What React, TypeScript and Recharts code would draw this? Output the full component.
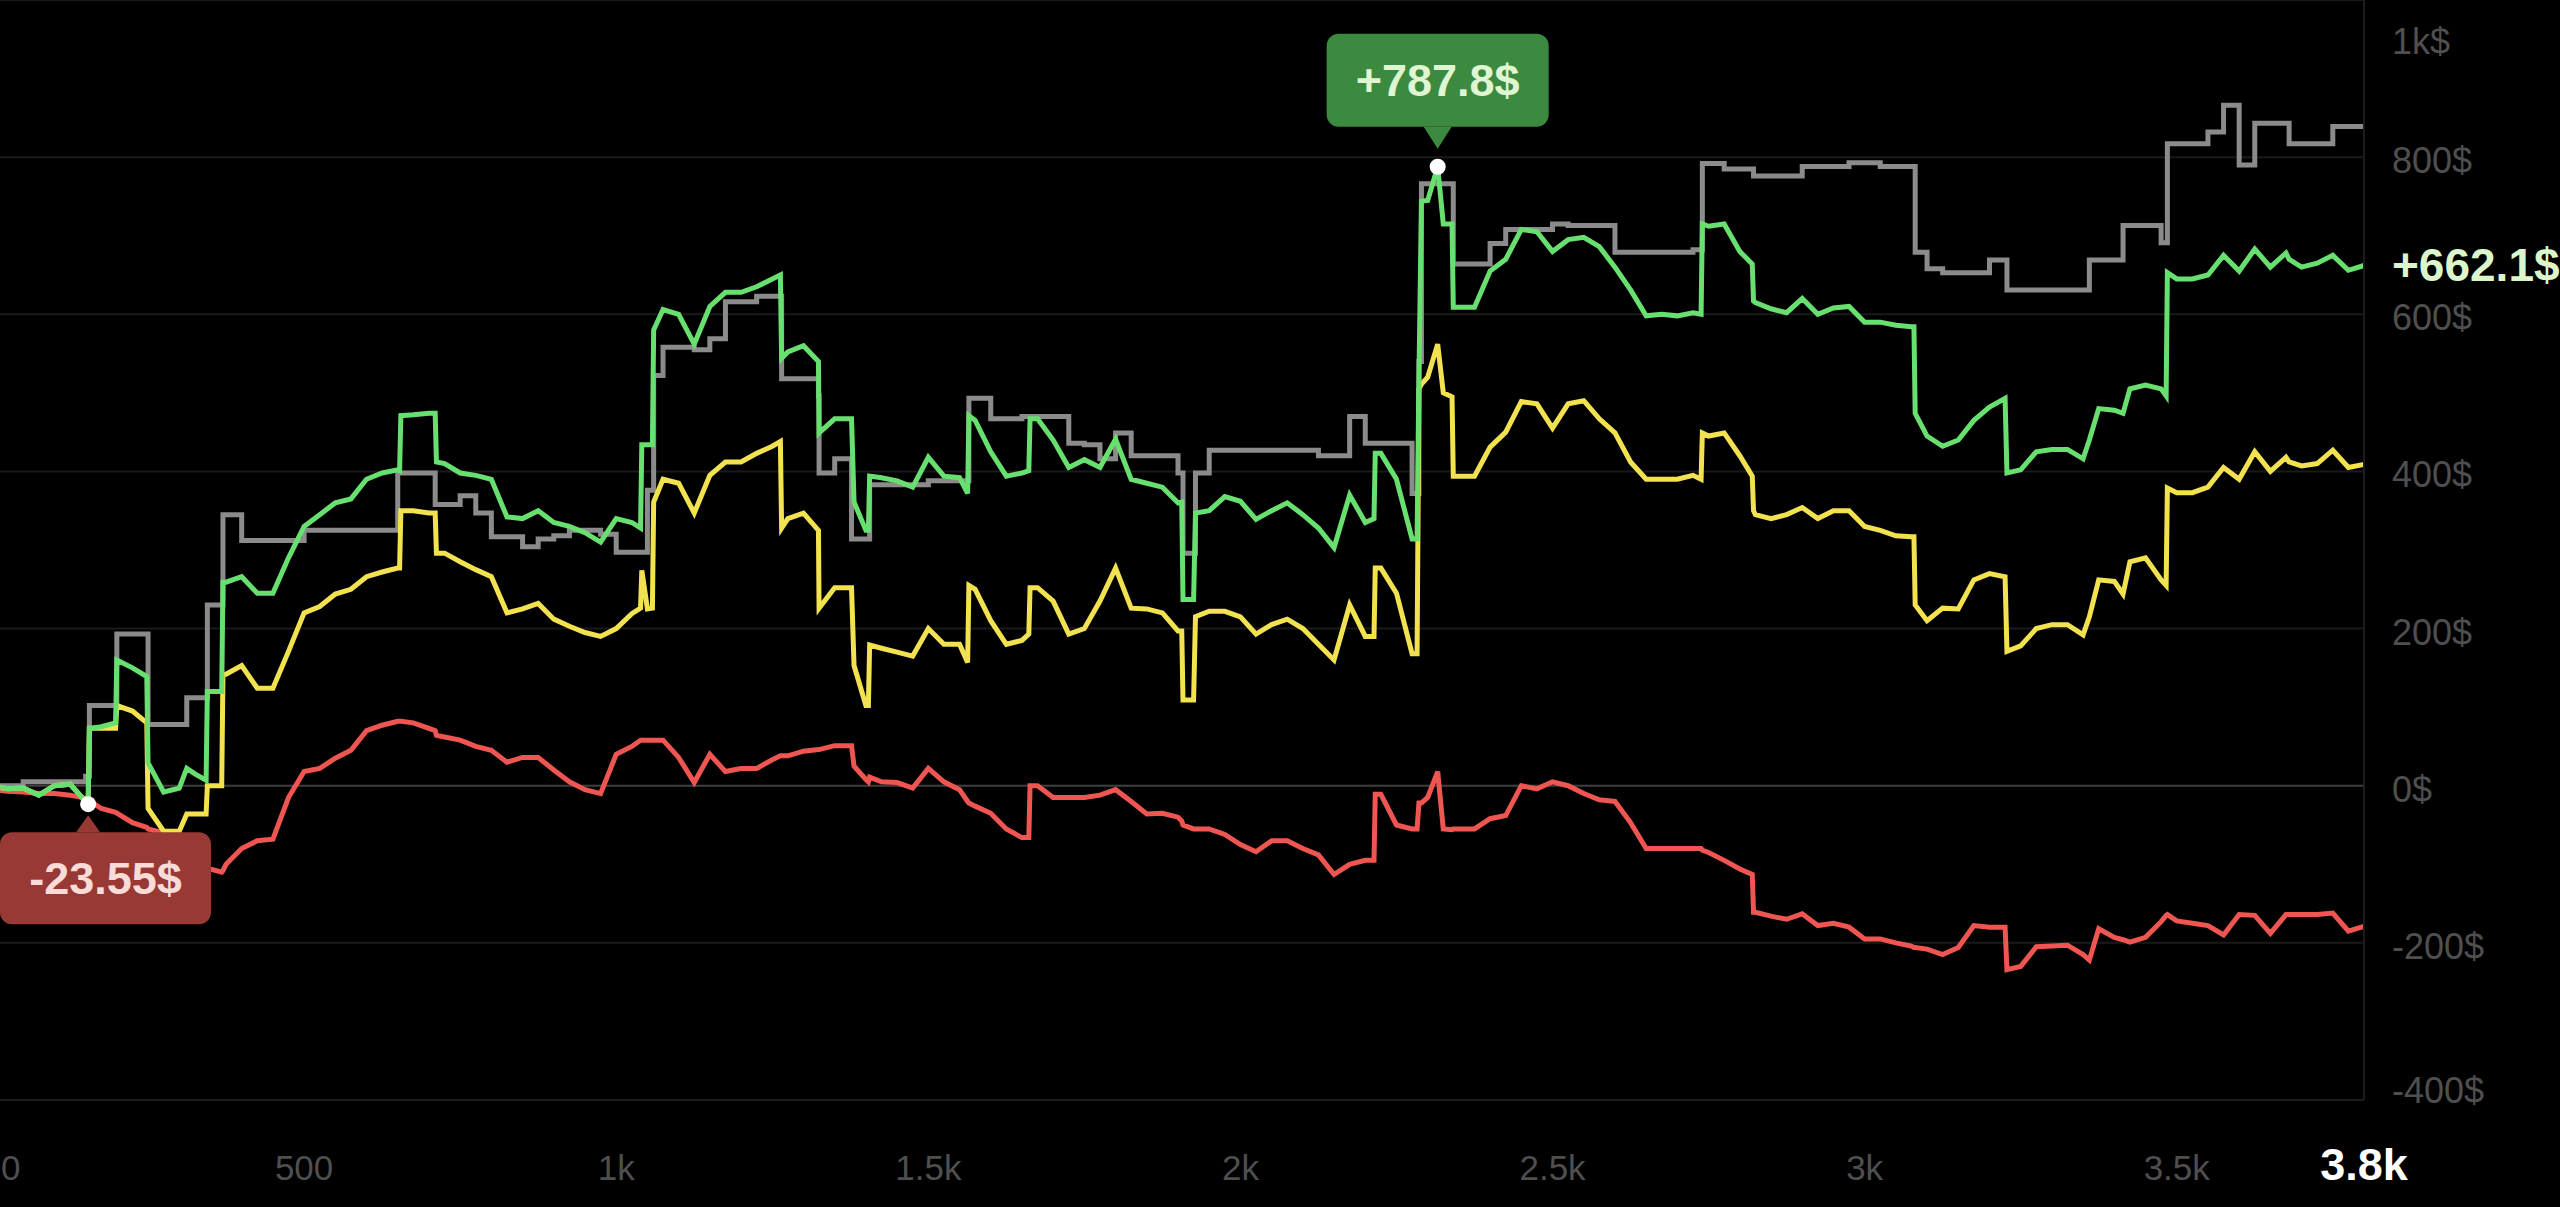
import { LineChart, Line, XAxis, YAxis, CartesianGrid, ReferenceLine, ReferenceDot } from 'recharts';

// trade count (x) - grid points plus a few extra points at the big jumps
const trades = [
  0, 25, 50, 75, 100, 125, 150, 154, 156, 175,
  198, 200, 225, 248, 250, 275, 300, 312, 325, 343,
  345, 368, 370, 375, 400, 425, 450, 475, 500, 525,
  550, 575, 600, 625, 650, 653, 655, 675, 700, 710,
  712, 725, 750, 775, 800, 825, 850, 875, 900, 925,
  950, 975, 1000, 1025, 1039, 1041, 1050, 1058, 1060, 1075,
  1100, 1125, 1150, 1175, 1200, 1225, 1250, 1263, 1265, 1275,
  1300, 1324, 1325, 1350, 1375, 1377, 1381, 1400, 1404, 1406,
  1425, 1450, 1475, 1500, 1525, 1550, 1563, 1565, 1575, 1600,
  1625, 1650, 1661, 1663, 1675, 1700, 1725, 1750, 1775, 1800,
  1825, 1850, 1875, 1900, 1906, 1908, 1925, 1928, 1950, 1975,
  2000, 2025, 2050, 2075, 2100, 2125, 2150, 2175, 2200, 2214,
  2216, 2225, 2250, 2275, 2283, 2286, 2290, 2300, 2316, 2325,
  2339, 2341, 2350, 2375, 2400, 2425, 2450, 2475, 2500, 2525,
  2550, 2575, 2600, 2625, 2650, 2675, 2700, 2725, 2738, 2740,
  2750, 2775, 2800, 2820, 2822, 2825, 2850, 2875, 2900, 2925,
  2950, 2975, 3000, 3025, 3050, 3075, 3079, 3081, 3100, 3125,
  3150, 3175, 3200, 3225, 3228, 3250, 3275, 3300, 3325, 3350,
  3360, 3375, 3400, 3414, 3425, 3450, 3475, 3483, 3485, 3500,
  3525, 3550, 3575, 3600, 3625, 3650, 3675, 3680, 3700, 3725,
  3750, 3775, 3800,
];

// green line
const totalPnl = [
  0, -4, -3, -12, 0, 2, -20, -23.55, 73, 75,
  80, 160, 150, 139, 29, -8, -3, 22, 15, 7,
  120, 120, 259, 259, 266, 245, 245, 290, 330, 345,
  360, 365, 390, 398, 402, 401, 471, 472, 474, 474,
  412, 410, 398, 395, 390, 342, 340, 350, 335, 330,
  322, 310, 340, 335, 328, 434, 434, 434, 580, 606,
  600, 562, 610, 628, 628, 635, 645, 650, 544, 552,
  560, 540, 449, 467, 467, 467, 361, 325, 325, 394,
  392, 388, 380, 418, 394, 392, 372, 471, 465, 425,
  394, 398, 401, 467, 467, 440, 405, 415, 405, 441,
  390, 385, 380, 360, 361, 237, 237, 347, 350, 368,
  362, 339, 350, 360, 345, 328, 303, 370, 335, 340,
  423, 423, 390, 314, 314, 520, 744, 745, 787.8, 715,
  715, 609, 609, 609, 655, 670, 708, 705, 680, 695,
  698, 686, 660, 631, 598, 600, 598, 602, 600, 715,
  712, 715, 680, 664, 617, 615, 607, 602, 620, 600,
  608, 610, 590, 590, 586, 584, 584, 474, 445, 432,
  440, 465, 482, 493, 398, 402, 425, 428, 428, 416,
  440, 480, 478, 474, 505, 510, 505, 496, 653, 645,
  645, 650, 675, 655, 683, 660, 678, 670, 660, 665,
  675, 656, 662.1,
];

// yellow line
const tradePnl = [
  0, -4, -3, -12, 0, 2, -20, -22, 73, 73,
  73, 102, 95, 80, -29, -58, -58, -36, -36, -36,
  0, 0, 142, 142, 153, 124, 124, 171, 220, 228,
  244, 250, 266, 272, 277, 277, 350, 350, 347, 347,
  296, 296, 285, 275, 266, 220, 225, 232, 212, 203,
  195, 190, 200, 219, 226, 274, 225, 226, 361, 390,
  385, 347, 395, 412, 412, 423, 432, 438, 328, 340,
  347, 325, 226, 252, 252, 252, 153, 102, 102, 179,
  175, 170, 165, 200, 180, 180, 157, 255, 250, 210,
  180, 185, 193, 252, 252, 235, 193, 200, 235, 277,
  226, 225, 220, 197, 197, 109, 109, 215, 222, 222,
  215, 193, 205, 212, 200, 180, 160, 230, 190, 190,
  277, 277, 245, 168, 168, 505, 511, 520, 562, 500,
  495, 394, 394, 394, 431, 450, 489, 486, 455, 486,
  490, 467, 449, 412, 390, 390, 390, 395, 390, 449,
  445, 449, 420, 394, 350, 345, 340, 345, 354, 340,
  350, 350, 330, 325, 318, 317, 317, 230, 210, 226,
  225, 262, 270, 266, 171, 178, 200, 205, 205, 192,
  215, 262, 260, 244, 285, 290, 262, 255, 379, 373,
  373, 380, 405, 390, 425, 400, 418, 412, 407, 410,
  427, 405, 409,
];

// red line
const feesPnl = [
  -5, -7, -8, -10, -10, -12, -16, -18, -19, -29,
  -34, -35, -47, -53, -55, -60, -70, -78, -85, -100,
  -105, -110, -108, -100, -80, -70, -68, -15, 18, 22,
  35, 45, 70, 77, 82, 82, 82, 80, 73, 70,
  64, 62, 58, 50, 45, 30, 36, 36, 20, 5,
  -5, -10, 40, 50, 58, 58, 58, 58, 58, 58,
  36, 4, 40, 18, 22, 22, 33, 38, 38, 38,
  44, 46, 46, 51, 51, 51, 25, 8, 5, 11,
  5, 4, -3, 22, 5, -5, -20, -22, -26, -35,
  -55, -66, -66, 0, 0, -15, -15, -15, -12, -5,
  -20, -36, -35, -40, -45, -50, -55, -55, -55, -62,
  -75, -84, -70, -70, -80, -88, -113, -100, -95, -95,
  -11, -11, -50, -55, -55, -22, -22, -15, 18, -55,
  -56, -55, -55, -55, -42, -38, 0, -4, 5, 0,
  -10, -18, -20, -47, -80, -80, -80, -80, -80, -82,
  -85, -95, -106, -113, -161, -161, -166, -170, -163, -178,
  -175, -180, -195, -195, -200, -204, -206, -206, -208, -215,
  -206, -178, -180, -180, -234, -230, -205, -204, -203, -215,
  -222, -182, -193, -196, -199, -193, -173, -165, -164, -172,
  -175, -178, -190, -164, -165, -188, -164, -164, -164, -164,
  -162, -185, -179,
];

// gray step line
const peakPnl = [
  0, 0, 5, 5, 5, 5, 12, 12, 102, 102,
  102, 193, 193, 193, 78, 78, 78, 112, 112, 112,
  230, 230, 345, 345, 312, 312, 312, 312, 325, 325,
  325, 325, 325, 325, 398, 398, 398, 398, 398, 358,
  358, 358, 369, 347, 317, 317, 304, 314, 318, 325,
  325, 320, 297, 297, 297, 297, 376, 376, 522, 558,
  558, 555, 569, 616, 616, 623, 623, 623, 518, 518,
  518, 496, 398, 416, 416, 314, 314, 314, 314, 383,
  383, 383, 383, 388, 388, 388, 388, 493, 493, 467,
  467, 470, 470, 470, 470, 470, 436, 434, 416, 449,
  420, 420, 420, 398, 398, 296, 296, 398, 427, 427,
  427, 427, 427, 427, 427, 420, 420, 470, 436, 436,
  436, 436, 436, 372, 372, 540, 766, 766, 766, 766,
  766, 664, 664, 664, 690, 708, 708, 708, 715, 713,
  713, 713, 679, 679, 679, 679, 679, 682, 682, 792,
  792, 785, 785, 785, 776, 776, 776, 776, 788, 788,
  788, 793, 793, 788, 788, 788, 788, 679, 658, 653,
  653, 653, 669, 669, 631, 631, 631, 631, 631, 631,
  669, 669, 669, 713, 713, 713, 691, 691, 817, 817,
  817, 832, 866, 790, 843, 843, 843, 817, 817, 817,
  839, 839, 839,
];

const xTicks = [0, 500, 1000, 1500, 2000, 2500, 3000, 3500, 3800];
const yTicks = [-400, -200, 0, 200, 400, 600, 800, 1000];

const rows = trades.map((t, i) => ({
  trade: t,
  total: totalPnl[i],
  trade_pnl: tradePnl[i],
  fees: feesPnl[i],
  peak: peakPnl[i],
}));

const lastX = trades[trades.length - 1];
const maxI = totalPnl.indexOf(Math.max(...totalPnl));
const minI = totalPnl.indexOf(Math.min(...totalPnl));
const lastVal = totalPnl[totalPnl.length - 1];

const FONT = '"Liberation Sans", Arial, Helvetica, sans-serif';

const fmtX = (v: number) => (v >= 1000 ? `${v / 1000}k` : `${v}`);
const fmtY = (v: number) => (v >= 1000 ? `${v / 1000}k$` : `${v}$`);
const fmtPnl = (v: number) => (v > 0 ? `+${v}$` : `${v}$`);

function XTick(props: any) {
  const { x, y, payload } = props;
  const v = payload.value;
  const isLast = v === lastX;
  const isFirst = v === 0;
  return (
    <text
      x={isFirst ? x + 9 : x}
      y={y + 80}
      textAnchor={isFirst ? 'start' : 'middle'}
      fontFamily={FONT}
      fontSize={isLast ? 45 : 35}
      fontWeight={isLast ? 700 : 400}
      fill={isLast ? '#ffffff' : '#4f4f4f'}
    >
      {fmtX(v)}
    </text>
  );
}

function YTick(props: any) {
  const { x, y, payload } = props;
  // keep the edge labels inside the chart
  const cy = Math.min(Math.max(y + 3, 41), 1090);
  return (
    <text x={x} y={cy + 13} textAnchor="start" fontFamily={FONT} fontSize={36} fill="#4f4f4f">
      {fmtY(payload.value)}
    </text>
  );
}

function MaxBubble(props: any) {
  const { cx, cy } = props;
  const w = 222;
  const h = 93;
  const top = cy - 40 - h;
  return (
    <g>
      <rect x={cx - w / 2} y={top} width={w} height={h} rx={12} fill="#3c8a3f" />
      <path d={`M${cx - 14},${top + h} L${cx + 14},${top + h} L${cx},${cy - 18} Z`} fill="#3c8a3f" />
      <text x={cx} y={top + h / 2 + 16} textAnchor="middle" fontFamily={FONT} fontSize={45} fontWeight={700} fill="#e0f6d2">
        {fmtPnl(totalPnl[maxI])}
      </text>
      <circle cx={cx} cy={cy} r={8} fill="#ffffff" />
    </g>
  );
}

function MinBubble(props: any) {
  const { cx, cy } = props;
  const w = 211;
  const h = 92;
  const top = cy + 28;
  const left = Math.max(cx - w / 2, 0);
  return (
    <g>
      <rect x={left} y={top} width={w} height={h} rx={12} fill="#983935" />
      <path d={`M${cx - 12},${top} L${cx + 12},${top} L${cx},${cy + 11} Z`} fill="#983935" />
      <text x={left + w / 2} y={top + h / 2 + 16} textAnchor="middle" fontFamily={FONT} fontSize={45} fontWeight={700} fill="#f9dcd7">
        {fmtPnl(totalPnl[minI])}
      </text>
      <circle cx={cx} cy={cy} r={8} fill="#ffffff" />
    </g>
  );
}

function LastLabel(props: any) {
  const { cx, cy } = props;
  return (
    <text x={cx + 28} y={cy + 16} textAnchor="start" fontFamily={FONT} fontSize={46} fontWeight={700} fill="#dcf6cc">
      {fmtPnl(lastVal)}
    </text>
  );
}

export default function App() {
  return (
    <div style={{ width: 2560, height: 1207, background: '#000' }}>
      <style>{'body{margin:0;background:#000;}'}</style>
      <LineChart width={2560} height={1207} data={rows} margin={{ top: 0, right: 0, bottom: 0, left: -8 }}>
        <CartesianGrid vertical={false} stroke="#1a1a1a" strokeWidth={2} />
        <XAxis
          dataKey="trade"
          type="number"
          domain={[0, lastX]}
          ticks={xTicks}
          interval={0}
          height={107}
          tickLine={false}
          tickSize={0}
          tickMargin={0}
          axisLine={{ stroke: '#1c1c1c', strokeWidth: 2 }}
          tick={(p: any) => <XTick {...p} />}
        />
        <YAxis
          orientation="right"
          type="number"
          domain={[-400, 1000]}
          ticks={yTicks}
          interval={0}
          width={196}
          tickLine={false}
          tickSize={0}
          tickMargin={28}
          axisLine={{ stroke: '#1c1c1c', strokeWidth: 2 }}
          tick={(p: any) => <YTick {...p} />}
        />
        <ReferenceLine y={0} stroke="#3d3d3d" strokeWidth={2} />
        <Line type="stepAfter" dataKey="peak" stroke="#8b8b8b" strokeWidth={5} dot={false} activeDot={false} isAnimationActive={false} />
        <Line type="linear" dataKey="fees" stroke="#ef5652" strokeWidth={5} dot={false} activeDot={false} isAnimationActive={false} />
        <Line type="linear" dataKey="trade_pnl" stroke="#f3e24f" strokeWidth={5} dot={false} activeDot={false} isAnimationActive={false} />
        <Line type="linear" dataKey="total" stroke="#68e070" strokeWidth={5} dot={false} activeDot={false} isAnimationActive={false} />
        <ReferenceDot x={trades[maxI]} y={totalPnl[maxI]} shape={(p: any) => <MaxBubble {...p} />} />
        <ReferenceDot x={trades[minI]} y={totalPnl[minI]} shape={(p: any) => <MinBubble {...p} />} />
        <ReferenceDot x={lastX} y={lastVal} shape={(p: any) => <LastLabel {...p} />} />
      </LineChart>
    </div>
  );
}
